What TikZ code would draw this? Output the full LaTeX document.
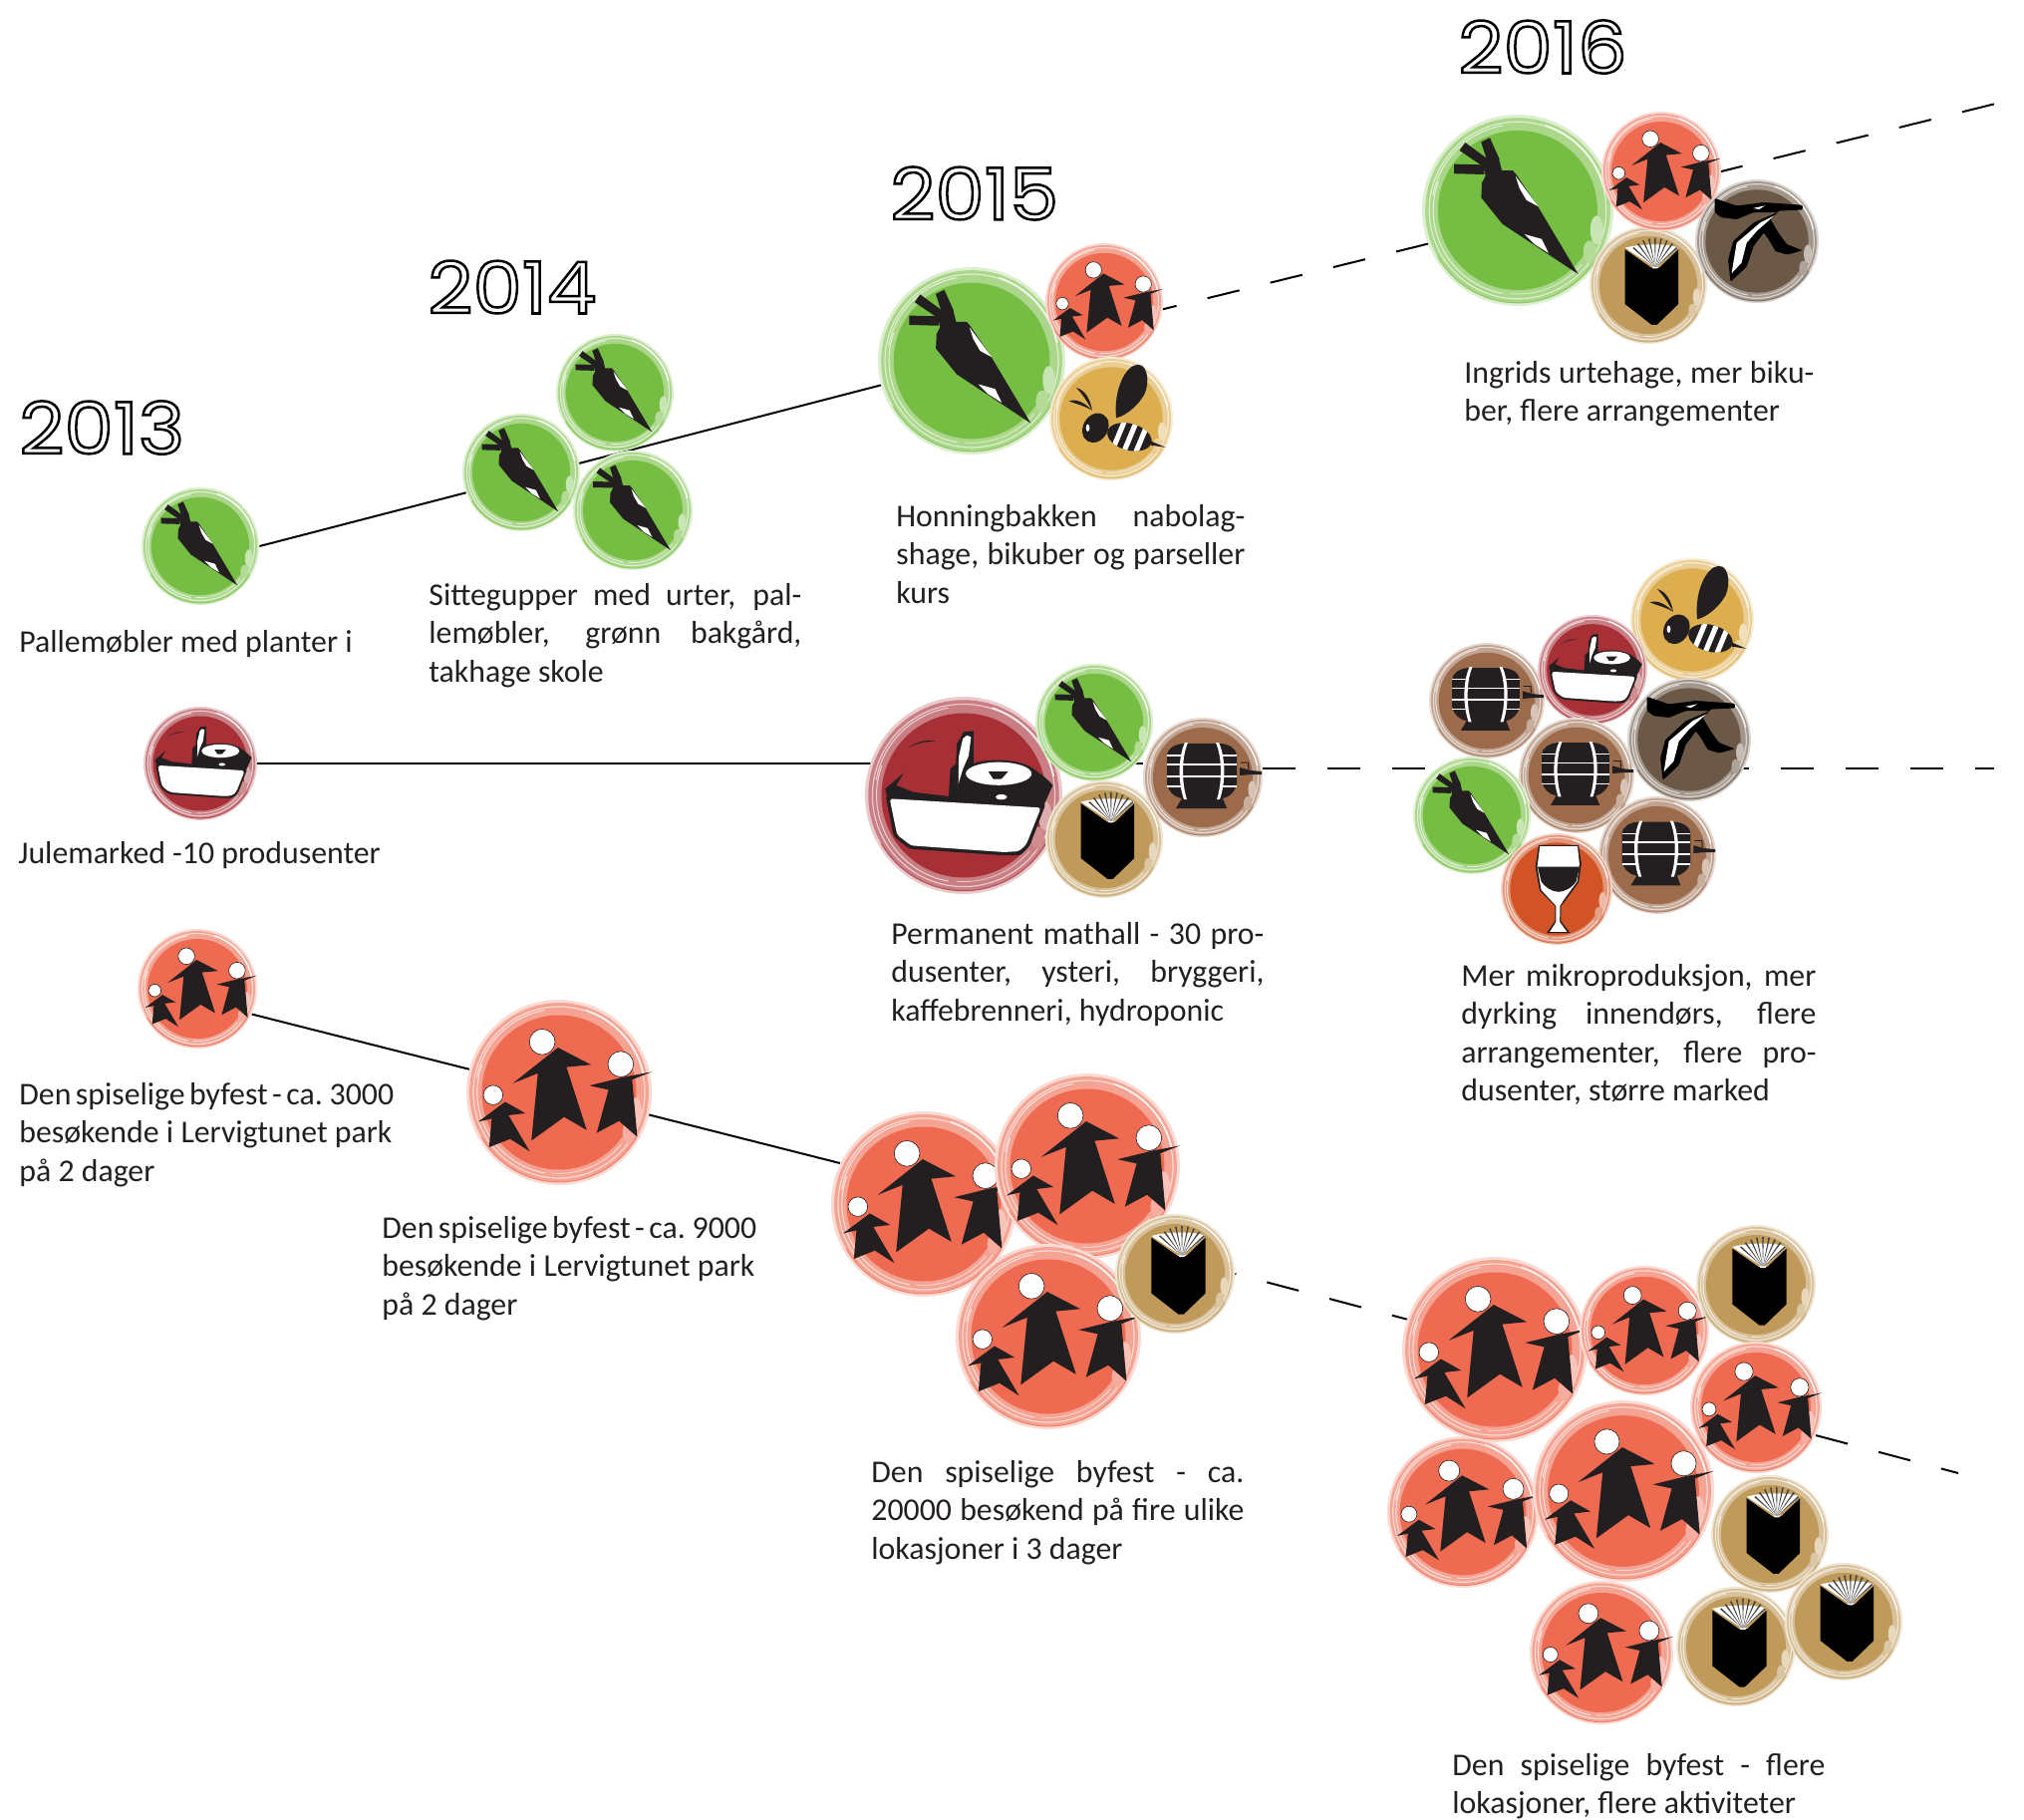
\documentclass[tikz,border=0pt]{standalone}
\usepackage{fontspec}
\setmainfont{Carlito}
\newfontfamily\yearfont[FakeStretch=1.09]{Poppins}
\usetikzlibrary{backgrounds}

\definecolor{carrotfill}{HTML}{76BE43}
\definecolor{peoplefill}{HTML}{EE6A50}
\definecolor{beefill}{HTML}{DDAE4F}
\definecolor{bookfill}{HTML}{C09A5A}
\definecolor{barrelfill}{HTML}{9B6B4C}
\definecolor{storkfill}{HTML}{6B5846}
\definecolor{marketfill}{HTML}{A72F36}
\definecolor{glassfill}{HTML}{D25426}
\definecolor{inkblack}{HTML}{231F20}

\newcommand{\jline}[2]{\makebox[#1][s]{#2}}
\newcommand{\tightline}[2]{\makebox[#1][s]{\spaceskip=.14em plus .2em\relax #2}}
\newcommand{\yearmark}[1]{\special{pdf:code 1 Tr 1.25 w}#1\special{pdf:code 0 Tr 1 w}}

\tikzset{
    badge/.style = {circle, inner sep = 0pt, fill = #1fill!25},
    caption/.style = {anchor = north west, inner sep = 0pt, align = left,
        font = \fontsize{15.9}{19.25}\selectfont, text = inkblack},
    yearlabel/.style = {anchor = west, inner sep = 0pt, font = \fontsize{36}{36}\yearfont},
    link/.style = {line width = 1pt, black},
    dashlink/.style = {link, dash pattern = on 16.5pt off 16pt},
    ring/.pic = {
        \fill[#1fill!62] (0,0) circle (58);
        \draw[#1fill!25, line width = .6pt] (0,0) circle (55.5);
        \draw[white, line width = .7pt, opacity = .85] (-72:56) arc (-72:-12:56);
        \draw[#1fill!85, line width = .5pt] (30:58) arc (30:150:58);
        \draw[#1fill!20, line width = .5pt] (100:53) arc (100:200:53);
        \draw[#1fill!20, line width = .5pt] (-170:54) arc (-170:-100:54);
        \draw[#1fill!25, line width = .4pt] (40:52.5) arc (40:95:52.5);
        \fill[#1fill] (0,0) circle (50);
        \fill[#1fill!40] (14:51) ellipse (4 and 9);
        \fill[#1fill!55] (30:52) ellipse (4 and 7);
    },
    people/.pic = {
        \fill[inkblack] (-.7,-29) -- (20.7,-17.9) -- (4.8,-16.4) -- (17.9,24.4) -- (3.3,15.9)
            -- (-17.9,31.2) -- (-13.7,-12.4) -- (-29.9,-5.9) -- cycle;
        \fill[inkblack] (60,-13.3) -- (47.3,-8.3) -- (50.6,28.8) -- (38.8,18.5) -- (24.4,26.2)
            -- (32,-1.7) -- (19.6,-4.4) -- (41.4,-9.8) -- cycle;
        \fill[inkblack] (-34.9,6.1) -- (-21.8,13.5) -- (-32.7,14.8) -- (-19,38.2) -- (-31.7,30.1)
            -- (-45.3,35.5) -- (-43.6,17) -- (-52.3,19) -- cycle;
        \filldraw[fill = white, draw = inkblack, line width = .3pt] (-10.9,-32.7) circle (8.3);
        \filldraw[fill = white, draw = inkblack, line width = .3pt] (39.9,-18.3) circle (8.3);
        \filldraw[fill = white, draw = inkblack, line width = .3pt] (-42.7,1.7) circle (6.3);
    },
    carrot/.pic = {
        \fill[inkblack] (-40,-29) -- (-21,-28.5) -- (-21,-22.5) -- (-40,-23) -- cycle;
        \fill[inkblack] (-33,-42.5) -- (-36.5,-37.5) -- (-20.3,-26.5) -- (-16.5,-30.5) -- cycle;
        \fill[inkblack] (-23,-42.8) -- (-17.5,-45.5) -- (-11.5,-32.1) -- (-17.8,-26.8) -- cycle;
        \fill[inkblack] (-22,-29) -- (-12,-33) -- (-10,-25) -- (-20,-21) -- cycle;
        \fill[inkblack] (-12.8,-25) -- (-3.2,-25) -- (-1,-22.5) -- (12.8,-2.1) -- (37.9,40)
            -- (-9.6,8.6) -- (-22.9,-7.9) -- (-22.5,-17.1) -- (-20.3,-21.4) -- (-17.8,-26.8) -- cycle;
        \fill[white] (-1.4,-21.5) -- (12.8,-2.4) -- (5.4,-6.4) -- (1,-14) -- cycle;
        \fill[white] (4.3,15) -- (15,18) -- (19.3,26.8) -- (10.7,21.4) -- cycle;
    },
    bee/.pic = {
        \fill[inkblack] (4.9,-.6) .. controls (2,-28) and (14,-52) .. (26,-52.5)
            .. controls (38,-52) and (37,-28) .. (30,-20) .. controls (24,-11) and (14,-3) .. (4.9,-.6);
        \fill[inkblack, shift = {(-15.2,9)}, rotate = -30] (0,0) ellipse (12 and 15);
        \fill[white] (-22.7,9) ellipse (1.8 and 3.5);
        \fill[inkblack] (38.9,22) -- (52.8,27.9) -- (38.9,25.9) -- cycle;
        \begin{scope}[shift = {(17.8,17.8)}, rotate = -15]
            \clip (0,0) ellipse (22 and 13);
            \fill[inkblack] (-25,-15) rectangle (25,15);
            \foreach \sx in {-13,-2,9}
            {
                \fill[white] (\sx+2,-15) -- (\sx+7,-15) -- (\sx+3,15) -- (\sx-2,15) -- cycle;
            }
        \end{scope}
        \fill[inkblack] (-34,-30) .. controls (-25,-28) and (-20,-18) .. (-18.5,-8)
            .. controls (-24,-18) and (-28,-24) .. cycle;
        \fill[inkblack] (-41,-17) .. controls (-34,-20) and (-25,-15) .. (-18.5,-8)
            .. controls (-25,-12) and (-33,-14) .. cycle;
    },
    book/.pic = {
        \fill[white] (7,-18) -- (-23.7,-38) .. controls (-10,-42) and (20,-43) .. (30.7,-38) -- cycle;
        \foreach \a in {-48,-36,...,48}
        {
            \fill[black!75] (7,-18) -- ({7+30*sin(\a-1.5)},{-18-30*cos(\a-1.5)})
                -- ({7+30*sin(\a+1.5)},{-18-30*cos(\a+1.5)}) -- cycle;
        }
        \fill[black] (-23.7,-36.4) -- (2.5,-18) -- (11.6,-18) -- (30.7,-36.4) -- (30.7,19.4)
            -- (8.8,40.6) -- (3.5,40.6) -- (-23.7,19.4) -- cycle;
        \fill[white] (3,-18.6) -- (11,-18.6) -- (9,-16.8) -- (5,-16.8) -- cycle;
    },
    barrel/.pic = {
        \fill[inkblack] (-20,-34) -- (18,-34) .. controls (26,-33) and (33,-30) .. (34,-22) -- (34,6)
            .. controls (33,14) and (26,20) .. (20,21) -- (24,31) -- (-27,31) -- (-21,21)
            .. controls (-28,20) and (-35,14) .. (-36,6) -- (-36,-22)
            .. controls (-35,-30) and (-28,-33) .. (-20,-34) -- cycle;
        \fill[white] (-36,-13.8) rectangle (34,-12.2);
        \fill[white] (-36,-1.8) rectangle (34,-.2);
        \foreach \ly in {-22,9}
        {
            \fill[white] (-36,\ly-.7) rectangle (-20,\ly+.7);
            \fill[white] (18,\ly-.7) rectangle (34,\ly+.7);
        }
        \fill[white] (-18,-35) .. controls (-25,-20) and (-25,5) .. (-19,22)
            -- (-16,22) .. controls (-21.5,5) and (-21.5,-20) .. (-15,-35) -- cycle;
        \fill[white] (16,-35) .. controls (23,-20) and (23,5) .. (17,22)
            -- (14,22) .. controls (19.5,5) and (19.5,-20) .. (13,-35) -- cycle;
        \fill[inkblack] (37,-10) -- (48,-7) -- (59,-6) -- (59,-3) -- (48,-3) -- (37,-2) -- cycle;
        \fill[inkblack] (38,-15.5) -- (46,-15.5) -- (46.5,-8) -- (45.5,-8) -- (45,-14.5) -- (38,-14.5) -- cycle;
    },
    stork/.pic = {
        \fill[black, rounded corners = .6pt] (-41,-41.7) -- (-19.7,-34.4) -- (6.6,-37.7) -- (44.3,-35.1)
            -- (44.3,-30.5) -- (21.3,-29.5) -- (13.1,-21.3) -- (21,-8) -- (29,3) -- (44.3,8.9)
            -- (29.5,13.1) -- (18,9.8) -- (11.5,-1.6) -- (6.6,-8.2) -- (-3.3,4.9) -- (-9.8,24.6)
            -- (-25.6,39.4) -- (-28,18) -- (-23,0) -- (-3.3,-18) -- (19.7,-27.9) -- (-3.3,-27.9)
            -- (-19.7,-21.3) -- (-34.4,-23) -- (-41,-27.9) -- cycle;
        \fill[white] (16.4,-24.6) -- (3.3,-18) -- (-19.7,1.6) -- (-24.6,31.2) -- (-15,21)
            -- (-10,1.6) -- (0,-10) -- (8,-17) -- cycle;
        \fill[white] (-4,-32) -- (8,-34.5) -- (2,-31) -- cycle;
    },
    market/.pic = {
        \fill[inkblack] (-47.7,-4) -- (-36.5,-13.6) -- (-41,-6.1) -- (-30.5,-2) -- (-9.1,.6)
            -- (-8.1,-16.2) -- (-4.7,-19.3) -- (-4.1,-31.5) -- (0,-38.6) -- (6.1,-39.2) -- (6.1,-19.3)
            .. controls (12,-22) and (30,-23) .. (40.6,-17.3) .. controls (46,-14) and (52,-9) .. (54.2,-6.1)
            -- (48.7,6.1) -- (18.3,7.5) -- (2,5.1) -- (-46.7,.6) -- cycle;
        \fill[inkblack, rounded corners = 1.5pt] (-47.5,0) -- (50,5) -- (40,31) -- (34.5,36.5) -- (24.4,36.5)
            -- (-33,32.5) -- (-42.5,25) -- cycle;
        \fill[white, rounded corners = 1.5pt] (-45,2) -- (47,7.5) -- (38,30) -- (33.5,34) -- (24.4,34.5)
            -- (-32,30.5) -- (-40.5,24) -- cycle;
        \fill[white] (-.5,-34.5) -- (2,-36.5) -- (4.5,-35.5) -- (3,-24) -- (-.5,-16) -- (-3.2,-7.1)
            -- (-3,-23.4) -- cycle;
        \fill[white] (21.3,-13.2) ellipse (20 and 7);
        \fill[inkblack] (15,-14.5) -- (27,-14.5) -- (23,-10) -- (18,-10) -- cycle;
        \fill[marketfill!0!white] (17.5,-7) -- (23,-10) -- (28,-7.5) -- cycle;
        \fill[white] (22.9,1) ellipse (3.5 and 1.6);
        \fill[inkblack] (-33.5,-29) .. controls (-28,-33) and (-22,-34) .. (-17,-33)
            .. controls (-22,-33) and (-28,-32) .. cycle;
    },
    glass/.pic = {
        \fill[inkblack] (-19.3,-47.3) -- (23.7,-47.3) -- (26.6,-27.3) -- (23.7,-7.3) -- (9.1,12.7)
            -- (4.7,18.2) -- (4.7,34.6) -- (14.6,47.3) -- (-10.9,47.3) -- (-1.8,34.6) -- (-1.8,18.2)
            -- (-18.2,1.8) -- (-22.9,-23.7) -- cycle;
        \fill[white] (-18,-46) -- (22.5,-46) -- (24.5,-27) -- (22,-8) -- (8,11) -- (3.6,18)
            -- (3.4,35.5) -- (11,45.8) -- (-7.3,45.8) -- (-.6,35.5) -- (-.6,18) -- (-16.5,1)
            -- (-20.8,-24) -- cycle;
        \fill[inkblack] (-20.4,-24) -- (24.6,-24) -- (21,-8) .. controls (16,-1) and (8,3) .. (2,3)
            .. controls (-6,3) and (-13,-3) .. (-16.5,-8) -- cycle;
    }
}

\begin{document}
\begin{tikzpicture}[x = 0.5pt, y = -0.5pt]
    \useasboundingbox (0,0) rectangle (2031,1826);

    % badges
    \foreach \name/\x/\y/\rr/\kind in {
        carrotA/201/548/59/carrot, marketA/201/766/57/market, peopleA/198/992/60/people,
        carrotB/617/394/59/carrot, carrotC/523/474/59/carrot, carrotD/635/512/60/carrot,
        peopleB/561/1096/93/people,
        carrotF/975/362/94/carrot, peopleF/1108/303/59/people, beeF/1115/420/62/bee,
        marketF/967/798/99/market, carrotG/1098/725/59/carrot, barrelG/1207/780/60/barrel,
        bookG/1108/842/59/book,
        peopleC/927/1208/93/people, peopleD/1091/1170/93/people, peopleE/1052/1341/93/people,
        bookH/1179/1278/60/book,
        carrotS/1523/211/96/carrot, bookS/1654/286/59/book, peopleS/1667/172/60/people,
        storkS/1763/242/62/stork,
        barrelT/1492/703/58/barrel, beeT/1698/622/62/bee, marketT/1598/672/55/market,
        storkT/1695/742/62/stork, barrelU/1582/778/58/barrel, carrotT/1477/818/59/carrot,
        barrelV/1663/858/59/barrel, glassT/1562/892/56/glass,
        peopleP/1500/1354/93/people, peopleQ/1650/1335/65/people, bookP/1762/1289/60/book,
        peopleR/1762/1412/66/people, peopleW/1468/1517/76/people, peopleX/1629/1496/91/people,
        bookQ/1776/1539/59/book, peopleY/1607/1658/72/people, bookR/1742/1652/60/book,
        bookT/1850/1627/59/book}
    {
        \node[badge = \kind, minimum size = \rr pt] (\name) at (\x,\y) {};
        \edef\drawicon{\noexpand\pic[scale = \rr/60] at (\name) {ring = \kind};
            \noexpand\pic[scale = \rr/60] at (\name) {\kind};}
        \drawicon
    }

    % free ends of the dashed lines
    \coordinate (endtop) at (2031,97);
    \coordinate (endmid) at (2001,771);
    \coordinate (endlow) at (1965,1478);

    \begin{scope}[on background layer]
        \draw[link] (carrotA.east) -- (carrotF.195);
        \draw[dashlink, dash phase = 9.5pt] (peopleF.-7) -- (endtop);
        \draw[link] (marketA.east) -- (marketA.east -| barrelG.west);
        \draw[dashlink] (barrelG.east |- endmid) -- (endmid);
        \draw[link] (peopleA.-25) -- (peopleC.154);
        \draw[dashlink, dash phase = 16pt] (bookH.east) -- (peopleP.161);
        \draw[dashlink] (peopleR.-25) -- (endlow);
    \end{scope}

    % years
    \node[yearlabel] (yearA) at (19,429) {\yearmark{2013}};
    \node[yearlabel] (yearB) at (429,288) {\yearmark{2014}};
    \node[yearlabel] (yearC) at (893,194) {\yearmark{2015}};
    \node[yearlabel] (yearD) at (1463,47) {\yearmark{2016}};

    % captions
    \node[caption] (textA) at (19,632) {Pallemøbler med planter i};
    \node[caption] (textB) at (430,585) {\jline{187pt}{Sittegupper med urter, pal-}\\
        \jline{187pt}{lemøbler, grønn bakgård,}\\takhage skole};
    \node[caption] (textC) at (899,506) {\jline{175pt}{Honningbakken nabolag-}\\
        \jline{175pt}{shage, bikuber og parseller}\\kurs};
    \node[caption] (textD) at (1469,362) {\jline{175.5pt}{Ingrids urtehage, mer biku-}\\
        ber, flere arrangementer};
    \node[caption] (textE) at (18,844) {Julemarked -10 produsenter};
    \node[caption] (textF) at (894,925) {\jline{187pt}{Permanent mathall - 30 pro-}\\
        \jline{187pt}{dusenter, ysteri, bryggeri,}\\kaffebrenneri, hydroponic};
    \node[caption] (textG) at (1466,967) {\jline{178pt}{Mer mikroproduksjon, mer}\\
        \jline{178pt}{dyrking innendørs, flere}\\
        \jline{178pt}{arrangementer, flere pro-}\\dusenter, større marked};
    \node[caption] (textH) at (19,1086) {\tightline{187pt}{Den spiselige byfest - ca. 3000}\\
        \jline{187pt}{besøkende i Lervigtunet park}\\på 2 dager};
    \node[caption] (textI) at (383,1220) {\tightline{187pt}{Den spiselige byfest - ca. 9000}\\
        \jline{187pt}{besøkende i Lervigtunet park}\\på 2 dager};
    \node[caption] (textJ) at (874,1465) {\jline{187pt}{Den spiselige byfest - ca.}\\
        \jline{187pt}{20000 besøkend på fire ulike}\\lokasjoner i 3 dager};
    \node[caption] (textK) at (1457,1759) {\jline{187pt}{Den spiselige byfest - flere}\\
        lokasjoner, flere aktiviteter};
\end{tikzpicture}
\end{document}
